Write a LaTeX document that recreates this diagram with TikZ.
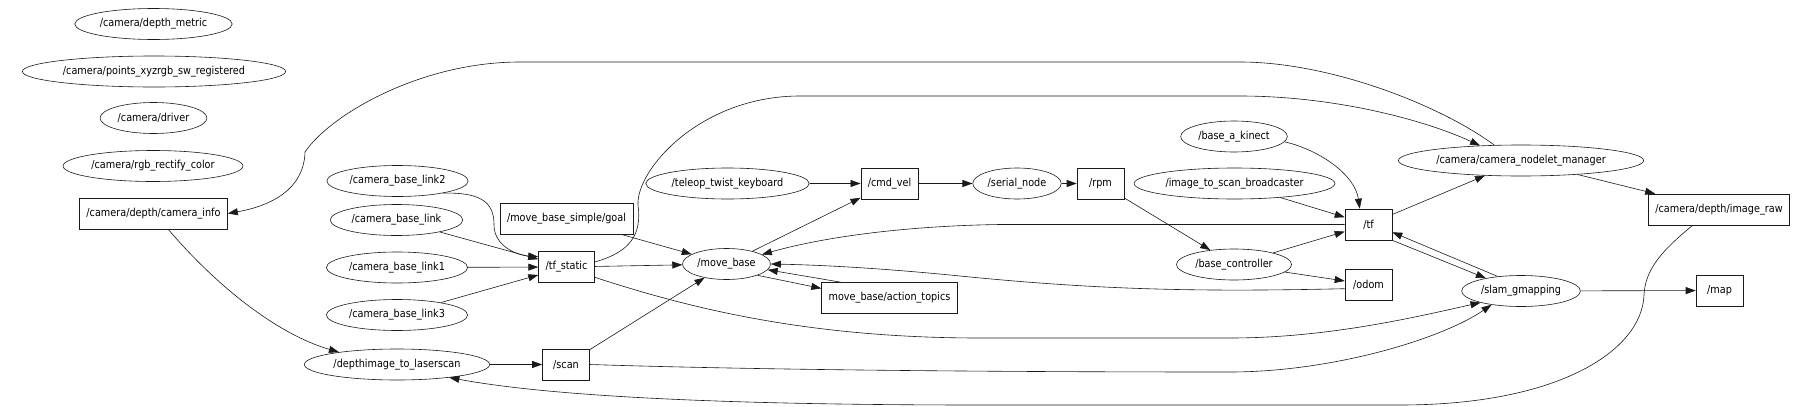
\documentclass[tikz,border=0pt]{standalone}
\usepackage{fontspec}
\setmainfont[FakeStretch=0.88]{DejaVu Sans}
\usetikzlibrary{arrows.meta, calc, shapes.geometric}
\definecolor{darkline}{HTML}{1A1A1A}
\tikzset{
  rosnode/.style={ellipse, draw=darkline, line width=0.6pt, inner xsep=2pt, inner ysep=0pt,
                  minimum height=31pt, font=\fontsize{11}{13}\selectfont},
  topic/.style={rectangle, draw=darkline, line width=0.6pt, inner xsep=7pt, inner ysep=0pt,
                minimum width=47pt, minimum height=31pt, font=\fontsize{11}{13}\selectfont},
  flow/.style={-{Triangle[length=10pt,width=7pt]}, line width=0.6pt, draw=darkline},
}

\begin{document}
\begin{tikzpicture}[x=1pt, y=-1pt]
\useasboundingbox (0,0) rectangle (1800,407);

% Unconnected camera nodes
\node[rosnode] (dmetric) at (153.5,24)  {/camera/depth\_metric};
\node[rosnode] (points)  at (154,71.5)  {/camera/points\_xyzrgb\_sw\_registered};
\node[rosnode] (driver)  at (153.5,118) {/camera/driver};
\node[rosnode] (rectify) at (153,166)   {/camera/rgb\_rectify\_color};

% Left column: static transforms and depth to laser
\node[topic]   (caminfo) at (153.5,213.5) {/camera/depth/camera\_info};
\node[rosnode] (link2)   at (397.5,181)   {/camera\_base\_link2};
\node[rosnode] (link)    at (396.5,220)   {/camera\_base\_link};
\node[rosnode] (link1)   at (397,267.5)   {/camera\_base\_link1};
\node[rosnode] (link3)   at (397,315)     {/camera\_base\_link3};
\node[rosnode] (d2l)     at (397,364.5)   {/depthimage\_to\_laserscan};

% Middle: navigation
\node[topic]   (goal)     at (566.5,219)   {/move\_base\_simple/goal};
\node[topic]   (tfstatic) at (566.5,267)   {/tf\_static};
\node[topic]   (scan)     at (566,364.5)   {/scan};
\node[rosnode] (movebase) at (726.5,264)   {/move\_base};
\node[rosnode] (teleop)   at (727.5,183.5) {/teleop\_twist\_keyboard};
\node[topic]   (cmdvel)   at (889.5,183.5) {/cmd\_vel};
\node[topic]   (actions)  at (889.5,298)   {move\_base/action\_topics};
\node[rosnode] (serial)   at (1017,183.5)  {/serial\_node};
\node[topic]   (rpm)      at (1100.5,183.5) {/rpm};

% Right: transforms, mapping
\node[rosnode] (kinect)  at (1234,136.5)   {/base\_a\_kinect};
\node[rosnode] (i2s)     at (1234.5,183.5) {/image\_to\_scan\_broadcaster};
\node[rosnode] (basectl) at (1234,264.5)   {/base\_controller};
\node[topic]   (tf)      at (1368.5,224.5) {/tf};
\node[topic]   (odom)    at (1368.5,284.5) {/odom};
\node[rosnode] (manager) at (1521,160.5)   {/camera/camera\_nodelet\_manager};
\node[rosnode] (slam)    at (1521,291)     {/slam\_gmapping};
\node[topic]   (imgraw)  at (1719,209.5)   {/camera/depth/image\_raw};
\node[topic]   (map)     at (1719.5,290.5) {/map};

% Flow
\draw[flow] (link2.-15) .. controls (485,192) and (494,205) .. (494,225)
            .. controls (494,245) and (515,255) .. (tfstatic.160);
\draw[flow] (link) -- (tfstatic);
\draw[flow] (link1) -- (tfstatic);
\draw[flow] (link3) -- (tfstatic);
\draw[flow] (caminfo.-47) .. controls (220,290) and (280,335) .. (d2l.168);
\draw[flow] (manager.150) .. controls (1440,105) and (1330,62) .. (1240,62) -- (520,62)
            .. controls (420,62) and (330,115) .. (305,152)
            .. controls (304,190) and (270,206) .. (caminfo.east);
\draw[flow] (tfstatic.10) .. controls (630,252) and (642,235) .. (638,205)
            .. controls (636,170) and (700,96) .. (800,96) -- (1240,96)
            .. controls (1330,96) and (1420,118) .. (manager.160);
\draw[flow] (d2l) -- (scan);
\draw[flow] (goal) -- (movebase);
\draw[flow] (tfstatic) -- (movebase);
\draw[flow] (scan) -- (movebase);
\draw[flow] (movebase) -- (cmdvel);
\draw[flow] (movebase.-20) -- (actions.172);
\draw[flow] (actions.162) -- (movebase.-8);
\draw[flow] (teleop) -- (cmdvel);
\draw[flow] (cmdvel) -- (serial);
\draw[flow] (serial) -- (rpm);
\draw[flow] (rpm) -- (basectl);
\draw[flow] (tf.west) -- (1000,224.5) .. controls (900,226) and (820,238) .. (movebase.15);
\draw[flow] (odom.190) .. controls (1200,292) and (1100,290) .. (960,276)
            .. controls (880,268) and (820,265) .. (movebase.east);
\draw[flow] (tfstatic.-20) .. controls (680,305) and (800,338) .. (980,338) -- (1230,338)
            .. controls (1330,338) and (1420,316) .. (slam.-164);
\draw[flow] (scan.east) .. controls (760,370) and (1000,372) .. (1230,372)
            .. controls (1330,372) and (1440,340) .. (slam.-155);
\draw[flow] (imgraw.-149) .. controls (1665,248) and (1645,268) .. (1644,295)
            .. controls (1642,350) and (1560,405) .. (1400,405) -- (980,405)
            .. controls (750,405) and (560,398) .. (d2l.-14);
\draw[flow] (kinect.-6) .. controls (1320,150) and (1355,175) .. (tf.119);
\draw[flow] (i2s) -- (tf);
\draw[flow] (basectl) -- (tf);
\draw[flow] (basectl) -- (odom);
\draw[flow] (tf) -- (manager);
\draw[flow] (manager) -- (imgraw);
\draw[flow] (tf.south east) -- (slam.160);
\draw[flow] (slam.148) -- (tf.-18);
\draw[flow] (slam) -- (map);

\end{tikzpicture}
\end{document}
